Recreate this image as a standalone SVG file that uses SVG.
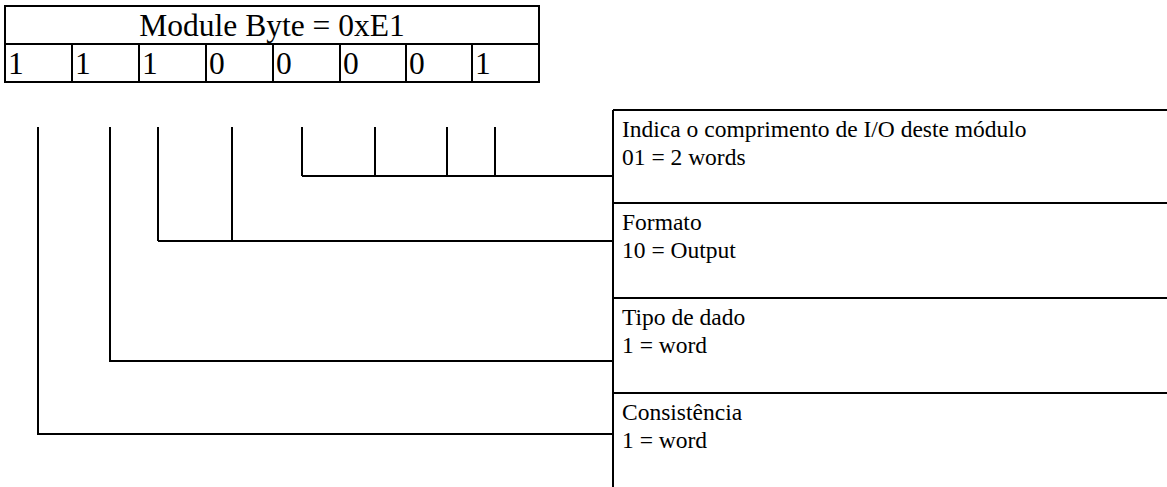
<svg xmlns="http://www.w3.org/2000/svg" width="1167" height="487" viewBox="0 0 1167 487">
<style>
.ln{stroke:#000;stroke-width:2;fill:none}
.hd{font-family:'Liberation Serif','DejaVu Serif',serif;font-size:31.5px;fill:#000}
.tx{font-family:'Liberation Serif','DejaVu Serif',serif;font-size:23.5px;fill:#000}
</style>
<rect width="1167" height="487" fill="#fff"/>
<g id="byte-table">
<rect class="ln" x="5" y="6" width="534" height="76"/>
<line class="ln" x1="5" y1="44" x2="539" y2="44"/>
<path class="ln" d="M72,44V82M139,44V82M206,44V82M273,44V82M340,44V82M406,44V82M472,44V82"/>
<text class="hd" x="272" y="36" text-anchor="middle">Module Byte = 0xE1</text>
<text class="hd" x="8" y="74">1</text>
<text class="hd" x="75" y="74">1</text>
<text class="hd" x="142" y="74">1</text>
<text class="hd" x="209" y="74">0</text>
<text class="hd" x="276" y="74">0</text>
<text class="hd" x="343" y="74">0</text>
<text class="hd" x="409" y="74">0</text>
<text class="hd" x="475" y="74">1</text>
</g>
<g id="connectors">
<path class="ln" d="M302,127V176M375,127V176M447,127V176M495,127V176M302,176H613"/>
<path class="ln" d="M158,127V241M232,127V241M158,241H613"/>
<path class="ln" d="M110,127V361H613"/>
<path class="ln" d="M38,127V434H613"/>
</g>
<g id="box-length">
<path class="ln" d="M613,110H1167M613,110V203"/>
<text class="tx" x="622" y="137">Indica o comprimento de I/O deste módulo</text>
<text class="tx" x="622" y="165">01 = 2 words</text>
</g>
<g id="box-formato">
<path class="ln" d="M613,203H1167M613,203V298"/>
<text class="tx" x="622" y="230">Formato</text>
<text class="tx" x="622" y="258">10 = Output</text>
</g>
<g id="box-tipo">
<path class="ln" d="M613,298H1167M613,298V393"/>
<text class="tx" x="622" y="325">Tipo de dado</text>
<text class="tx" x="622" y="353">1 = word</text>
</g>
<g id="box-consistencia">
<path class="ln" d="M613,393H1167M613,393V487"/>
<text class="tx" x="622" y="420">Consistência</text>
<text class="tx" x="622" y="448">1 = word</text>
</g>
</svg>
